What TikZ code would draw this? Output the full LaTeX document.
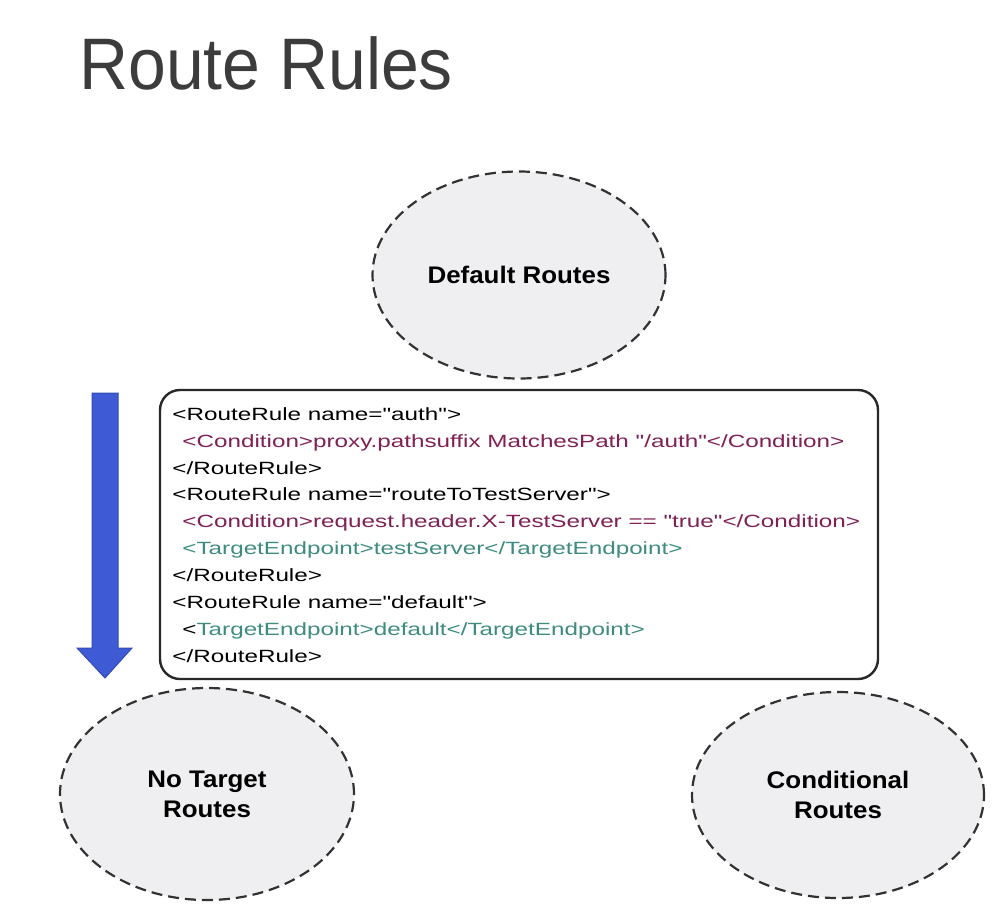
\documentclass[tikz,border=0pt]{standalone}
\usepackage{fontspec}
\setmainfont{Liberation Sans}
\newfontfamily\codefont[FakeStretch=1.37]{Liberation Sans}
\newfontfamily\titlefont[FakeStretch=0.93]{Liberation Sans}
\newfontfamily\labelfont[FakeStretch=1.08]{Liberation Sans}
\usetikzlibrary{shapes.geometric}
\definecolor{routefill}{RGB}{239,239,241}
\definecolor{routeline}{RGB}{50,50,50}
\definecolor{boxline}{RGB}{40,40,40}
\definecolor{condcol}{RGB}{128,32,84}
\definecolor{targetcol}{RGB}{62,140,128}
\definecolor{arrowblue}{RGB}{62,90,212}
\definecolor{titlegray}{RGB}{60,60,60}

\begin{document}
\begin{tikzpicture}[x=0.5pt,y=0.5pt,
    routes/.style={ellipse,draw=routeline,fill=routefill,dash pattern=on 5.5pt off 3pt,line width=1.1pt,inner sep=0pt,align=center,font=\labelfont\bfseries\fontsize{12}{15}\selectfont},
    code/.style={anchor=north west,inner sep=0pt,align=left,font=\codefont\fontsize{8.85}{13.45}\selectfont}]
        \fill[white] (0,0) rectangle (1000,-922);
        \useasboundingbox (0,0) rectangle (1000,-922);
        % title
        \node[anchor=base west,inner sep=0pt,text=titlegray,font=\titlefont\fontsize{36.5}{40}\selectfont] (title) at (79,-89) {Route Rules};
        % the three kinds of routes
        \node[routes,minimum width=146.5pt,minimum height=103.5pt] (default) at (519,-275) {Default Routes};
        \node[routes,minimum width=147pt,minimum height=106pt] (notarget) at (207,-794) {No Target\\Routes};
        \node[routes,minimum width=146pt,minimum height=103pt] (conditional) at (838,-795) {Conditional\\Routes};
        % order of evaluation
        \fill[arrowblue,draw=arrowblue!85!black,line width=0.5pt] (92,-393) -- (118,-393) -- (118,-648) -- (132,-648)
              -- (105,-678) -- (77,-648) -- (92,-648) -- cycle;
        % route rules
        \draw[boxline,line width=1.2pt,rounded corners=10pt] (160,-390) rectangle (878,-679);
        \node[code] (rules) at (172,-407) {%
            <RouteRule name="auth">\\
            \hspace*{5pt}\textcolor{condcol}{<Condition>proxy.pathsuffix MatchesPath "/auth"</Condition>}\\
            </RouteRule>\\
            <RouteRule name="routeToTestServer">\\
            \hspace*{5pt}\textcolor{condcol}{<Condition>request.header.X-TestServer == "true"</Condition>}\\
            \hspace*{5pt}\textcolor{targetcol}{<TargetEndpoint>testServer</TargetEndpoint>}\\
            </RouteRule>\\
            <RouteRule name="default">\\
            \hspace*{5pt}<\textcolor{targetcol}{TargetEndpoint>default</TargetEndpoint>}\\
            </RouteRule>};
\end{tikzpicture}
\end{document}
